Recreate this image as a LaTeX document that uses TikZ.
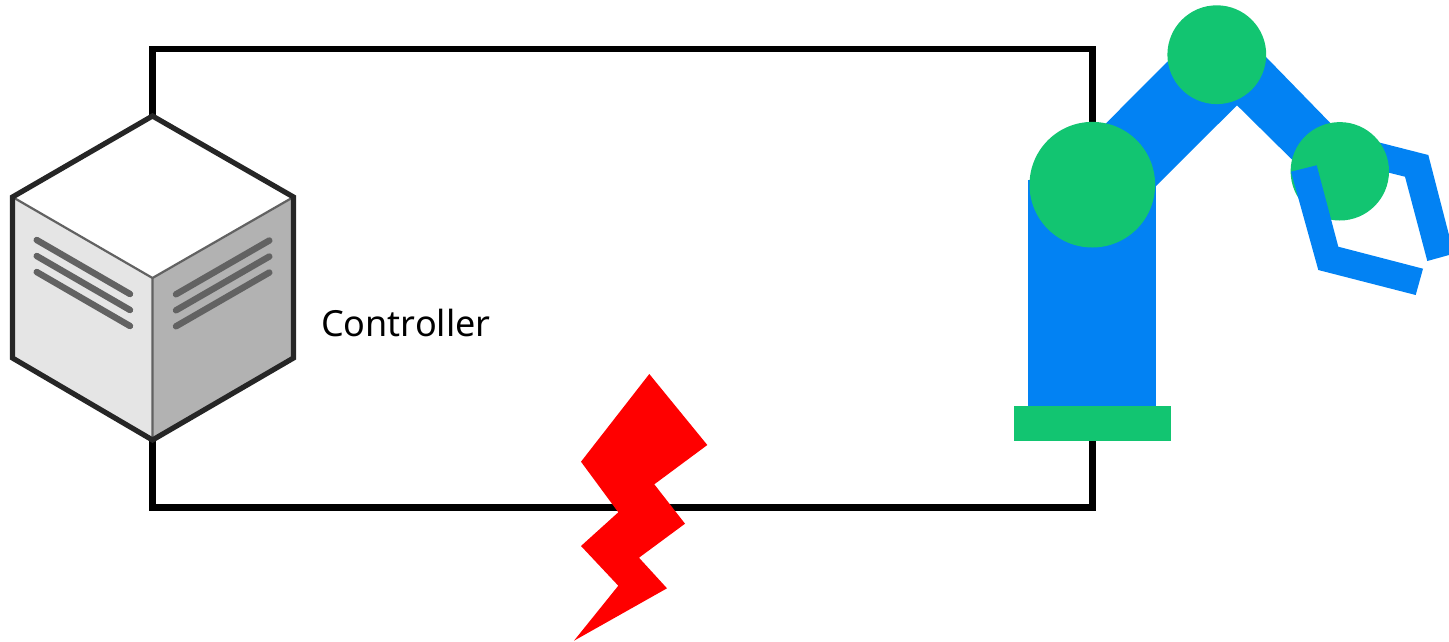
\documentclass[tikz,border=0pt]{standalone}
\usepackage{fontspec}
\setmainfont{Noto Sans}
\definecolor{armblue}{RGB}{2,130,243}
\definecolor{jointgreen}{RGB}{18,197,113}
\definecolor{ventgrey}{RGB}{98,98,98}
\definecolor{edgedark}{RGB}{38,38,38}
\tikzset{
  wire/.style={draw=black,line width=6.4pt,miter limit=10},
  armpart/.style={fill=armblue,draw=none},
  jointpart/.style={fill=jointgreen,draw=none},
  facelight/.style={fill=black!10,draw=none},
  facedark/.style={fill=black!30,draw=none},
  faceedge/.style={draw=ventgrey,line width=2.2pt,line cap=round},
  cubeoutline/.style={draw=edgedark,line width=5.2pt,line join=miter},
  vent/.style={draw=ventgrey,line width=6.4pt,line cap=round},
  bolt/.style={fill=red,draw=none}
}
\begin{document}
\begin{tikzpicture}[x=1pt,y=-1pt]
\useasboundingbox (0,0) rectangle (1449,641);
\clip (0,0) rectangle (1449,641);
% cube reference points
\coordinate (cubetop) at (152.5,116);
\coordinate (cubebottom) at (152.5,440);
\coordinate (cubecentre) at (152.5,278);
\coordinate (cubeul) at (12.5,197);
\coordinate (cubeur) at (293.5,197);
\coordinate (cubell) at (12.5,358);
\coordinate (cuberl) at (293.5,358);
\coordinate (wiretr) at (1092.3,49);
\coordinate (wirebr) at (1092.3,507.3);
\coordinate (wiretl) at (152.5,49);
\coordinate (wirebl) at (152.5,507.3);
% wiring loop
\draw[wire] (cubetop) -- (wiretl) -- (wiretr) -- (wirebr) -- (wirebl) -- (cubebottom);
% controller cube
\fill[white] (cubetop) -- (cubeur) -- (cubecentre) -- (cubeul) -- cycle;
\path[facelight] (cubeul) -- (cubecentre) -- (cubebottom) -- (cubell) -- cycle;
\path[facedark] (cubeur) -- (cubecentre) -- (cubebottom) -- (cuberl) -- cycle;
\draw[faceedge] (cubeul) -- (cubecentre) -- (cubeur) (cubecentre) -- (cubebottom);
\draw[vent] (36.7,240) -- (130,294);
\draw[vent] (36.7,256) -- (130,310);
\draw[vent] (36.7,272) -- (130,326);
\draw[vent] (269.3,240.5) -- (176,294.3);
\draw[vent] (269.3,256.5) -- (176,310.3);
\draw[vent] (269.3,272.5) -- (176,326.3);
\draw[cubeoutline] (cubetop) -- (cubeur) -- (cuberl) -- (cubebottom) -- (cubell) -- (cubeul) -- cycle;
\node[anchor=base west,inner sep=0pt,font=\fontsize{36}{36}\selectfont] (controllerlabel) at (321,336) {Controller};
% robot arm
\path[armpart] (1028,180) rectangle (1156,406);
\path[armpart] (1156,186) -- (1237,105.3) -- (1291.7,159.3) -- (1340,171) -- (1330,122.7) -- (1266.3,57.3) -- (1216,40) -- (1167.3,61.7) -- (1106,123.3) -- (1092,185) -- cycle;
\path[jointpart] (1014,406) rectangle (1171,441);
% upper jaw, behind the wrist joint
\path[armpart] (1340,130) -- (1380,142.7) -- (1428.3,155) -- (1449,235) -- (1449,255) -- (1427.3,261) -- (1405,176.7) -- (1389,172.7) -- (1350,165) -- cycle;
% joints
\node[circle,jointpart,minimum size=125.6pt,inner sep=0pt] (jointbase) at (1092.3,184.7) {};
\node[circle,jointpart,minimum size=98.8pt,inner sep=0pt] (jointelbow) at (1216.8,54.7) {};
\node[circle,jointpart,minimum size=98.4pt,inner sep=0pt] (jointwrist) at (1339.8,171.3) {};
% lower jaw, in front of the wrist joint
\path[armpart] (1291,171.7) -- (1316.7,165.3) -- (1338.3,246.7) -- (1423,268.7) -- (1415.7,295) -- (1318.3,270) -- cycle;
% lightning bolt
\path[bolt] (649.3,374) -- (707.3,445) -- (654.3,484.3) -- (685,523.7) -- (639,557.7) -- (667,588.3) -- (574,640.7) -- (618.3,585.7) -- (581,546) -- (618.3,512.3) -- (581,461.7) -- cycle;
\end{tikzpicture}
\end{document}
